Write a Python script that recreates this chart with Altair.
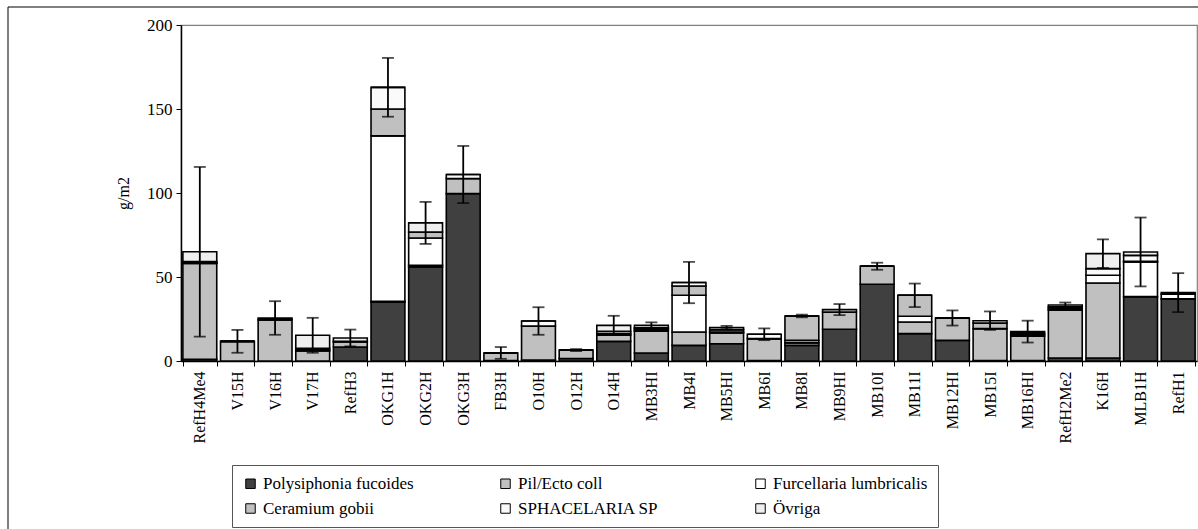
import altair as alt
import pandas as pd

# Stations along the x axis
stations = ["RefH4Me4", "V15H", "V16H", "V17H", "RefH3", "OKG1H", "OKG2H", "OKG3H",
            "FB3H", "O10H", "O12H", "O14H", "MB3HI", "MB4I", "MB5HI", "MB6I", "MB8I",
            "MB9HI", "MB10I", "MB11I", "MB12HI", "MB15I", "MB16HI", "RefH2Me2", "K16H",
            "MLB1H", "RefH1"]

# Biomass per taxon (g/m2), stacked bottom to top
polysiphonia = [1, 0, 0, 0, 8.3, 35, 56, 99.6, 0.3, 0.5, 1.5, 11.7, 4.8, 9.3, 10.3, 0.3,
                9.3, 18.9, 45.7, 16.3, 12.3, 0.3, 0.3, 1.8, 1.8, 38.3, 37]
pil_ecto = [57, 11.7, 24.6, 6, 3, 0.5, 1, 9, 4.5, 20.3, 5, 3.6, 12.9, 8, 6.4, 13,
            1.5, 10.3, 10.7, 6.9, 13.3, 19, 14.4, 28.4, 44.6, 0, 0]
furcellaria = [0.4, 0, 0, 0.8, 0.5, 98.5, 16.2, 0, 0, 0, 0, 1, 0.5, 21.8, 0.5, 0,
               1.5, 0, 0, 3.4, 0, 0, 1, 1, 4.6, 20.7, 2.7]
ceramium = [0.4, 0, 0, 0.7, 0, 16, 3.6, 0, 0, 0, 0, 1.4, 1, 5.5, 1.5, 0,
            14.5, 0, 0, 12.5, 0, 3.3, 0, 1, 0, 0.3, 0]
sphacelaria = [0.4, 0, 0, 0, 0, 12.9, 0, 2.4, 0, 3, 0, 0, 0.5, 2.1, 0, 2.6,
               0, 0, 0, 0, 0, 0, 0.8, 0, 4, 3.6, 0]
ovriga = [5.8, 0, 1, 7.8, 1.9, 0, 5.4, 0, 0, 0, 0, 3.5, 1.5, 0, 1.2, 0,
          0, 1.4, 0, 0, 0, 1.4, 1, 1.1, 8.9, 2, 1]

# Error (± g/m2) on each station total
errors = [50.5, 6.8, 10, 10.4, 5, 17.5, 12.5, 17, 3.5, 8.2, 0.6, 5.7, 1.8, 12.3, 1,
          3.5, 0.8, 3.3, 2.1, 7, 4.5, 5.5, 6.5, 1.5, 8.5, 20.5, 11.6]

# Stack order (bottom to top)
series_names = ["Polysiphonia fucoides", "Pil/Ecto coll", "Furcellaria lumbricalis",
                "Ceramium gobii", "SPHACELARIA SP", "Övriga"]
series_values = [polysiphonia, pil_ecto, furcellaria, ceramium, sphacelaria, ovriga]
series_colors = ["#404040", "#c0c0c0", "#ffffff", "#c0c0c0", "#fafafa", "#efefef"]

# The legend fills its grid column by column; this order puts the taxa
# row by row as: Polysiphonia, Pil/Ecto, Furcellaria / Ceramium, Sphacelaria, Övriga
legend_order = [0, 3, 1, 4, 2, 5]
legend_domain = [series_names[i] for i in legend_order]
legend_range = [series_colors[i] for i in legend_order]

rows = []
for k, (name, vals) in enumerate(zip(series_names, series_values)):
    for st, v in zip(stations, vals):
        rows.append({"station": st, "taxon": name, "order": k, "value": v})
long_df = pd.DataFrame(rows)

totals = [sum(vals[i] for vals in series_values) for i in range(len(stations))]
err_df = pd.DataFrame({
    "station": stations,
    "lo": [t - e for t, e in zip(totals, errors)],
    "hi": [t + e for t, e in zip(totals, errors)],
})

FONT = "Liberation Serif"

x_enc = alt.X(
    "station:N", sort=stations,
    scale=alt.Scale(paddingInner=0.1, paddingOuter=0.05),
    axis=alt.Axis(title=None, labelAngle=270, tickBand="extent", labelFont=FONT,
                  labelFontSize=16, labelColor="black", domainColor="black",
                  domainWidth=1.5, tickColor="black", tickSize=5, tickWidth=1,
                  labelPadding=5),
)

y_scale = alt.Scale(domain=[0, 200], nice=False)

bars = alt.Chart(long_df).mark_bar(stroke="black", strokeWidth=1.6).encode(
    x=x_enc,
    y=alt.Y("value:Q", stack="zero", scale=y_scale,
            axis=alt.Axis(title="g/m2", values=[0, 50, 100, 150, 200], grid=False,
                          labelFont=FONT, labelFontSize=17, labelColor="black",
                          titleFont=FONT, titleFontSize=16, titleFontWeight="normal",
                          titleColor="black", titlePadding=15, domainColor="black",
                          domainWidth=1.5, tickColor="black", tickSize=5, tickWidth=1,
                          labelPadding=4)),
    color=alt.Color("taxon:N", scale=alt.Scale(domain=legend_domain, range=legend_range),
                    legend=alt.Legend(title=None, orient="none", legendX=51, legendY=440,
                                      columns=3, gridAlign="all", columnPadding=79,
                                      rowPadding=7, padding=10, symbolType="square",
                                      symbolSize=90, symbolStrokeColor="black",
                                      symbolStrokeWidth=1, labelFont=FONT,
                                      labelFontSize=17, labelColor="black",
                                      labelOffset=4, strokeColor="#555555",
                                      fillColor="white", labelLimit=400)),
    order=alt.Order("order:Q", sort="ascending"),
)

err_rule = alt.Chart(err_df).mark_rule(color="black", strokeWidth=1.8).encode(
    x=alt.X("station:N", sort=stations),
    y=alt.Y("lo:Q", scale=y_scale),
    y2="hi:Q",
)
cap_lo = alt.Chart(err_df).mark_tick(color="black", thickness=1.8, size=12).encode(
    x=alt.X("station:N", sort=stations),
    y=alt.Y("lo:Q", scale=y_scale),
)
cap_hi = alt.Chart(err_df).mark_tick(color="black", thickness=1.8, size=12).encode(
    x=alt.X("station:N", sort=stations),
    y=alt.Y("hi:Q", scale=y_scale),
)

# Outer chart frame
frame = alt.Chart(alt.Data(values=[{}])).mark_rect(
    fill="white", fillOpacity=0, stroke="black", strokeWidth=1
).encode(
    x=alt.value(-173), x2=alt.value(1100), y=alt.value(-18), y2=alt.value(700)
)

chart = alt.layer(bars, err_rule, cap_lo, cap_hi, frame).properties(
    width=1016, height=336,
    padding={"left": 181, "top": 25, "right": 1, "bottom": 168},
    autosize=alt.AutoSizeParams(type="none"),
    background="white",
).configure(font=FONT).configure_view(stroke="#808080", strokeWidth=1.2)

chart.save("out.html", embed_options={"renderer": "svg", "actions": False})
